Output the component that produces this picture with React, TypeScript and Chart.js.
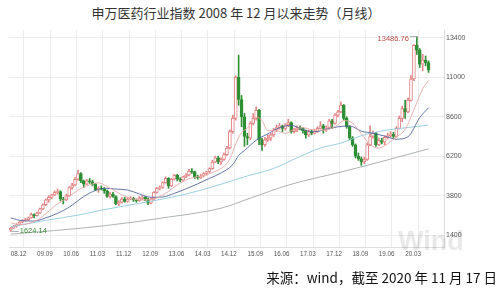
import React, { useEffect, useRef } from "react";
import { Chart, registerables } from "chart.js";

Chart.register(...registerables);

// ---------- data ----------
const xTickIndex = [0, 9, 18, 27, 36, 45, 54, 63, 72, 81, 90, 99, 108, 117, 126, 135];
const xTickLabels = ["08.12", "09.09", "10.06", "11.03", "11.12", "12.09", "13.06", "14.03", "14.12", "15.09", "16.06", "17.03", "17.12", "18.09", "19.06", "20.03"];
const yTicks = [1400, 3800, 6200, 8600, 11000, 13400];

// monthly candles, 2008.12 .. 2020.11
const opens = [
  1700, 1830, 1950, 2050, 2200, 2300, 2350, 2450, 2650, 2580,
  2750, 3000, 3250, 3550, 3700, 3850, 4000, 4050, 3600, 3550,
  3800, 4300, 4450, 4800, 5150, 4700, 4500, 4700, 4650, 4500,
  4150, 4250, 4200, 4100, 3750, 3900, 3750, 3300, 3400, 3600,
  3450, 3600, 3650, 3550, 3500, 3650, 3700, 3600, 3350, 3600,
  4000, 4250, 4300, 4600, 4850, 4400, 4800, 5050, 4800, 4750,
  4950, 5050, 5300, 5250, 4950, 4900, 5000, 5150, 5250, 5450,
  5850, 6100, 5850, 6000, 6300, 6700, 7700, 8500, 11000, 9650,
  8600, 7400, 7300, 8200, 8500, 9000, 7200, 6900, 7200, 7300,
  7500, 7800, 7950, 8050, 7900, 8100, 8250, 7700, 7800, 7950,
  7900, 7750, 7500, 7700, 7600, 7700, 7900, 8050, 7900, 7950,
  8350, 8200, 8700, 8900, 9300, 8500, 8000, 7300, 6900, 6200,
  6050, 5850, 6000, 6900, 7400, 7600, 6900, 7150, 7050, 7350,
  7450, 7550, 7400, 7900, 8500, 9100, 8900, 9600, 10900, 12950,
  12650, 11800, 12050, 11900,
];
const closes = [
  1830, 1950, 2050, 2200, 2300, 2350, 2450, 2650, 2580, 2750,
  3000, 3250, 3550, 3700, 3850, 4000, 4050, 3600, 3550, 3800,
  4300, 4450, 4800, 5150, 4700, 4500, 4700, 4650, 4500, 4150,
  4250, 4200, 4100, 3750, 3900, 3750, 3300, 3400, 3600, 3450,
  3600, 3650, 3550, 3500, 3650, 3700, 3600, 3350, 3600, 4000,
  4250, 4300, 4600, 4850, 4400, 4800, 5050, 4800, 4750, 4950,
  5050, 5300, 5250, 4950, 4900, 5000, 5150, 5250, 5450, 5850,
  6100, 5850, 6000, 6300, 6700, 7700, 8500, 11000, 9650, 8600,
  7400, 7300, 8200, 8500, 9000, 7200, 6900, 7200, 7300, 7500,
  7800, 7950, 8050, 7900, 8100, 8250, 7700, 7800, 7950, 7900,
  7750, 7500, 7700, 7600, 7700, 7900, 8050, 7900, 7950, 8350,
  8200, 8700, 8900, 9300, 8500, 8000, 7300, 6900, 6200, 6050,
  5850, 6000, 6900, 7400, 7600, 6900, 7150, 7050, 7350, 7450,
  7550, 7400, 7900, 8500, 9100, 8900, 9600, 10900, 12950, 12650,
  11800, 12050, 11900, 11450,
];
const highs = [
  1880, 2000, 2100, 2250, 2350, 2420, 2500, 2750, 2700, 2800,
  3050, 3300, 3600, 3800, 3900, 4100, 4200, 4100, 3700, 3900,
  4350, 4550, 4900, 5360, 5200, 4750, 4800, 4850, 4750, 4550,
  4350, 4400, 4300, 4150, 4000, 4000, 3800, 3500, 3700, 3700,
  3700, 3750, 3700, 3600, 3750, 3800, 3750, 3650, 3650, 4050,
  4300, 4400, 4650, 4950, 4900, 4850, 5100, 5100, 4900, 5000,
  5150, 5400, 5450, 5300, 5050, 5100, 5200, 5300, 5500, 5950,
  6200, 6200, 6100, 6400, 6800, 7800, 8700, 11100, 12350, 9900,
  8800, 7600, 8300, 8800, 9200, 9050, 7300, 7350, 7500, 7600,
  7900, 8100, 8200, 8100, 8200, 8450, 8300, 7900, 8050, 8050,
  7950, 7800, 7800, 7800, 7850, 8000, 8300, 8150, 8050, 8450,
  8450, 8800, 9000, 9500, 9350, 8600, 8050, 7400, 6950, 6400,
  6150, 6150, 7000, 8050, 7750, 7650, 7300, 7300, 7450, 7600,
  7700, 7650, 8000, 8650, 9250, 9600, 9750, 11100, 13000, 13486.76,
  12750, 12400, 12300, 12000,
];
const lows = [
  1624.14, 1800, 1880, 2000, 2150, 2250, 2300, 2420, 2450, 2550,
  2700, 2950, 3200, 3400, 3600, 3800, 3900, 3500, 3300, 3500,
  3750, 4200, 4400, 4750, 4600, 4300, 4450, 4550, 4400, 4100,
  4000, 4150, 3950, 3700, 3650, 3700, 3250, 3200, 3350, 3400,
  3400, 3550, 3450, 3400, 3450, 3550, 3500, 3250, 3300, 3550,
  3950, 4150, 4250, 4550, 4250, 4350, 4750, 4700, 4650, 4700,
  4900, 5000, 5150, 4850, 4800, 4850, 4950, 5050, 5200, 5400,
  5800, 5750, 5700, 5950, 6250, 6650, 7600, 8400, 9300, 8000,
  6800, 6900, 7200, 8100, 8400, 6900, 6550, 6800, 7100, 7150,
  7400, 7700, 7850, 7700, 7800, 8000, 7600, 7600, 7700, 7800,
  7600, 7300, 7400, 7500, 7550, 7650, 7850, 7600, 7700, 7900,
  7900, 8150, 8600, 8850, 8400, 7900, 7200, 6800, 6100, 5950,
  5650, 5750, 5950, 6850, 7300, 6800, 6850, 6950, 6900, 7250,
  7350, 7300, 7350, 7850, 8300, 8500, 8850, 9550, 10800, 12400,
  11600, 11400, 11700, 11300,
];

// moving-average lines: [month index, value]
const ma10: [number, number][] = [
  [0, 2150], [3, 2050], [6, 2100], [9, 2311], [12, 2708], [15, 3178], [18, 3530], [21, 3885],
  [24, 4240], [27, 4460], [30, 4585], [33, 4350], [36, 4055], [39, 3770], [42, 3595], [45, 3540],
  [48, 3565], [51, 3750], [54, 4065], [57, 4465], [60, 4755], [63, 4930], [66, 5010], [69, 5215],
  [72, 5450], [75, 6035], [77, 6945], [79, 7640], [81, 7915], [84, 8585], [86, 8375], [88, 7760],
  [91, 7755], [94, 7590], [97, 7835], [100, 7935], [103, 7825], [106, 7785], [109, 7840], [112, 8125],
  [114, 8375], [117, 8210], [120, 7570], [123, 6910], [126, 6695], [129, 6965], [132, 7375], [135, 7835],
  [138, 9025], [141, 10300], [143, 10800],
];
const ma20: [number, number][] = [
  [0, 2450], [4, 2280], [8, 2260], [12, 2453], [16, 2728], [20, 3099], [24, 3629], [28, 4045],
  [32, 4250], [36, 4205], [40, 4145], [44, 3908], [48, 3703], [52, 3725], [56, 3945], [60, 4220],
  [64, 4523], [68, 4853], [72, 5185], [76, 5690], [78, 6245], [80, 6545], [84, 7175], [88, 7563],
  [92, 7938], [96, 8075], [100, 7813], [104, 7688], [108, 7848], [112, 7990], [116, 8048], [120, 7728],
  [124, 7598], [128, 7430], [132, 7238], [136, 7388], [140, 8553], [143, 9150],
];
const ma60: [number, number][] = [
  [0, 1900], [12, 2300], [24, 2650], [31, 2920], [47, 3430], [60, 3900], [71, 4445], [80, 4950],
  [90, 5460], [98, 6100], [106, 6700], [113, 7000], [120, 7450], [129, 7800], [136, 7950], [143, 8100],
];
const ma120: [number, number][] = [
  [0, 1460], [15, 1680], [31, 1950], [54, 2500], [72, 3040], [82, 3650], [95, 4445], [113, 5240],
  [121, 5600], [143, 6650],
];

// ---------- styles ----------
const UP = "#e38585";
const DOWN = "#2f8f35";
const GRID = "#ececec";

export default function App() {
  const ref = useRef<HTMLCanvasElement | null>(null);

  useEffect(() => {
    if (!ref.current) return;
    const up = closes.map((c, i) => c >= opens[i]);

    const annot = {
      id: "annot",
      afterDatasetsDraw(chart: any) {
        const { ctx, scales } = chart;
        const x = scales.x, y = scales.y;
        const hi = Math.max(...highs);
        const hiIdx = highs.indexOf(hi);
        const lo = Math.min(...lows);
        const loIdx = lows.indexOf(lo);
        ctx.save();
        const hx = x.getPixelForValue(hiIdx);
        const hy = y.getPixelForValue(hi);
        ctx.strokeStyle = "#999";
        ctx.lineWidth = 0.8;
        ctx.beginPath();
        ctx.moveTo(hx, hy + 2);
        ctx.lineTo(hx, hy);
        ctx.lineTo(hx - 7, hy);
        ctx.stroke();
        ctx.fillStyle = "#c0504d";
        ctx.font = '7.5px "Liberation Sans", Arial, sans-serif';
        ctx.textAlign = "right";
        ctx.textBaseline = "middle";
        ctx.fillText(hi.toFixed(2), hx - 8, hy + 2);
        const lx = x.getPixelForValue(loIdx);
        const ly = y.getPixelForValue(lo);
        ctx.beginPath();
        ctx.moveTo(lx + 1, ly);
        ctx.lineTo(lx + 8, ly);
        ctx.stroke();
        ctx.fillStyle = "#3f8a3f";
        ctx.textAlign = "left";
        ctx.fillText(lo.toFixed(2), lx + 9, ly - 1);
        ctx.restore();
      },
    };

    const lineDs = (data: [number, number][], color: string) => ({
      type: "line" as const,
      data: data.map(([x, y]) => ({ x, y })),
      borderColor: color,
      borderWidth: 0.9,
      pointRadius: 0,
      cubicInterpolationMode: "monotone" as const,
      fill: false,
      order: 0,
    });

    const chart = new Chart(ref.current, {
      type: "bar",
      data: {
        datasets: [
          lineDs(ma10, "#eaa7a7"),
          lineDs(ma20, "#55659c"),
          lineDs(ma60, "#8fcadb"),
          lineDs(ma120, "#a3aaa3"),
          {
            type: "bar",
            data: closes.map((c, i) => ({ x: i, y: [Math.min(opens[i], c), Math.max(opens[i], c)] })) as any,
            backgroundColor: up.map((u) => (u ? "#ffffff" : DOWN)),
            borderColor: up.map((u) => (u ? UP : DOWN)),
            borderWidth: 1,
            borderSkipped: false,
            barThickness: 3,
            grouped: false,
            order: 1,
          } as any,
          {
            type: "bar",
            data: closes.map((_, i) => ({ x: i, y: [lows[i], highs[i]] })) as any,
            backgroundColor: up.map((u) => (u ? UP : DOWN)),
            borderWidth: 0,
            barThickness: 1,
            grouped: false,
            order: 2,
          } as any,
        ],
      },
      options: {
        animation: false,
        responsive: false,
        events: [],
        layout: { padding: { top: 30, left: 9, right: 0, bottom: 0 } },
        plugins: { legend: { display: false }, tooltip: { enabled: false } },
        scales: {
          x: {
            type: "linear",
            min: -0.6,
            max: 148.3,
            offset: false,
            afterBuildTicks: (axis: any) => {
              axis.ticks = xTickIndex.map((v) => ({ value: v }));
            },
            afterFit: (axis: any) => {
              axis.height = 18;
            },
            grid: { color: GRID, drawTicks: false, lineWidth: 1 },
            border: { color: "#dddddd" },
            ticks: {
              autoSkip: false,
              maxRotation: 0,
              minRotation: 0,
              align: "start",
              padding: 3,
              color: "#555",
              font: { size: 6.3, family: '"Liberation Sans", Arial, sans-serif' },
              callback: (v: any) => {
                const k = xTickIndex.indexOf(Number(v));
                return k >= 0 ? xTickLabels[k] : "";
              },
            },
          },
          y: {
            position: "right",
            min: 680,
            max: 13880,
            afterBuildTicks: (axis: any) => {
              axis.ticks = yTicks.map((v) => ({ value: v }));
            },
            afterFit: (axis: any) => {
              axis.width = 56;
            },
            grid: { color: GRID, drawTicks: false },
            border: { color: "#dddddd" },
            ticks: {
              padding: 2,
              color: "#555",
              font: { size: 7, family: '"Liberation Sans", Arial, sans-serif' },
              callback: (v: any) => String(v),
            },
          },
        },
      } as any,
      plugins: [annot],
    });
    return () => chart.destroy();
  }, []);

  return (
    <div style={{ position: "absolute", left: 0, top: 0, width: 500, height: 290, background: "#fff", overflow: "hidden" }}>
      <div
        style={{
          position: "absolute",
          left: 0,
          top: 4,
          width: 472,
          textAlign: "center",
          fontFamily: '"Noto Sans CJK SC", sans-serif',
          fontSize: 13,
          lineHeight: "17px",
          color: "#333",
          whiteSpace: "nowrap",
        }}
      >
        申万医药行业指数 2008 年 12 月以来走势（月线）
      </div>
      <canvas ref={ref} width={500} height={265} style={{ position: "absolute", left: 0, top: 0, width: 500, height: 265 }} />
      <div
        style={{
          position: "absolute",
          left: 398,
          top: 226,
          fontFamily: '"Liberation Sans", Arial, sans-serif',
          fontWeight: 700,
          fontSize: 27,
          lineHeight: "30px",
          color: "rgba(0,0,0,0.09)",
          pointerEvents: "none",
        }}
      >
        Wind
      </div>
      <div
        style={{
          position: "absolute",
          right: 3,
          top: 268,
          fontFamily: '"Noto Sans CJK SC", sans-serif',
          fontSize: 13.5,
          lineHeight: "18px",
          color: "#111",
          whiteSpace: "nowrap",
        }}
      >
        来源：wind，截至 2020 年 11 月 17 日
      </div>
    </div>
  );
}
